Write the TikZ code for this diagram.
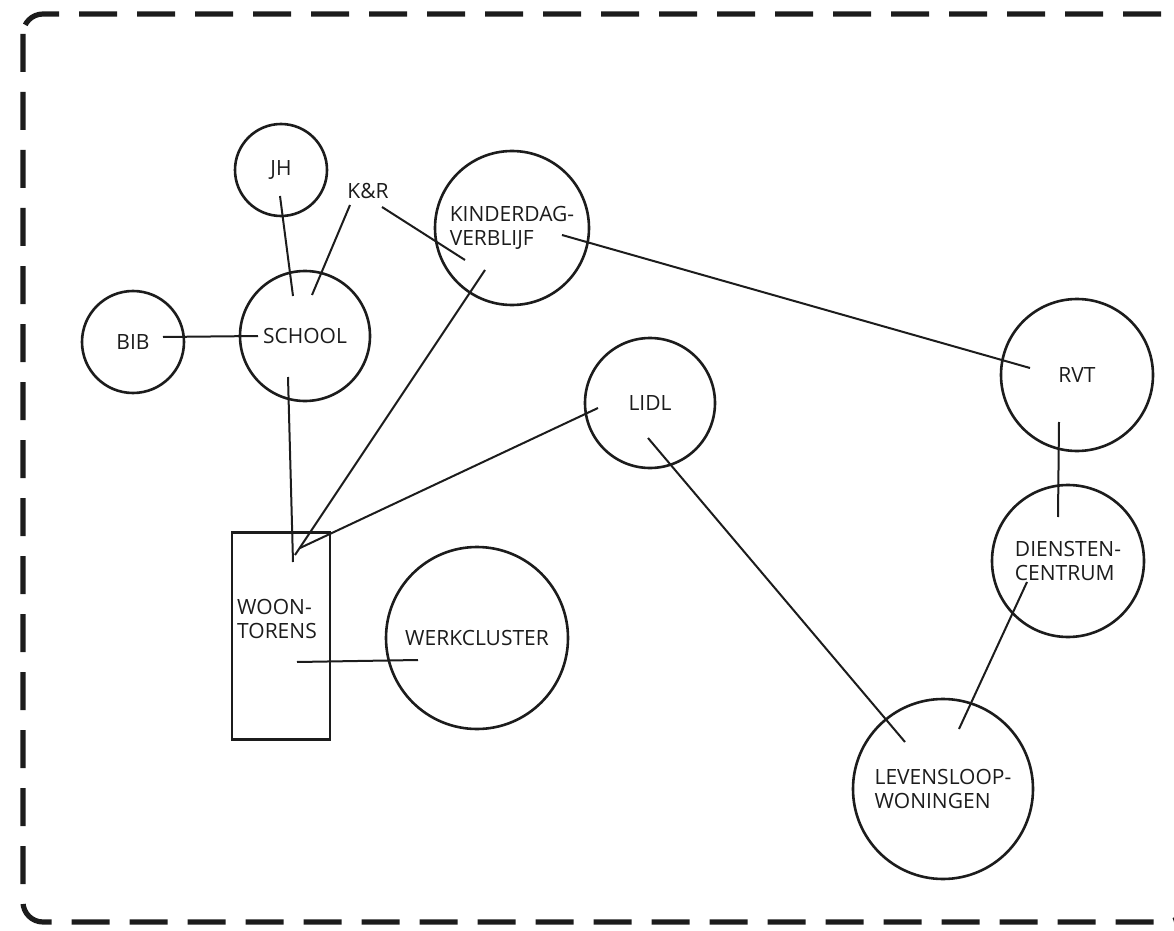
\documentclass[tikz,border=0pt]{standalone}
\usepackage{fontspec}
\setmainfont{Open Sans}
\usepackage{tikz}
\usetikzlibrary{positioning,calc}
\definecolor{ink}{HTML}{1C1C1C}

\begin{document}
\begin{tikzpicture}[x=0.5pt,y=-0.5pt,
  word/.style={text=ink,font=\fontsize{10.5}{12}\selectfont,align=left},
  spot/.style={circle,draw=ink,line width=1.3pt,inner sep=0pt,word},
  link/.style={draw=ink,line width=1pt},
  frame/.style={draw=ink,line width=2.6pt,dash pattern=on 19pt off 10pt,rounded corners=10pt}]
  \useasboundingbox (0,0) rectangle (1174,931);

  % Dashed frame, open to the right
  \draw[frame] (23,14) rectangle (1186,922);

  % Left: school cluster
  \node[spot,minimum size=46pt] (jh) at (281,170) {JH};
  \node[word] (kr) at (368,191) {K\&R};
  \node[spot,minimum size=65pt] (school) at (305,336) {SCHOOL};
  \node[spot,minimum size=51pt] (bib) at (133,342) {BIB};
  \node[spot,minimum size=77pt] (kdv) at (512,228) {KINDERDAG-\\VERBLIJF};

  % Centre: housing and work
  \node[draw=ink,line width=1.3pt,minimum width=49pt,minimum height=103.5pt,
        label={[word,xshift=-2pt,yshift=8.5pt]center:WOON-\\TORENS}] (wt) at (281,636) {};
  \node[spot,minimum size=91pt] (wc) at (477,638) {WERKCLUSTER};
  \node[spot,minimum size=65pt] (lidl) at (650,403) {LIDL};

  % Right: care chain
  \node[spot,minimum size=76pt] (rvt) at (1077,375) {RVT};
  \node[spot,minimum size=76pt] (dc) at (1068,561) {DIENSTEN-\\CENTRUM};
  \node[spot,minimum size=90pt] (lw) at (943,789) {LEVENSLOOP-\\WONINGEN};

  % Links
  \draw[link] ([xshift=-0.5pt,yshift=-13pt]jh.center) -- ([xshift=-6pt,yshift=20pt]school.center);
  \draw[link] ([xshift=-9pt,yshift=-7pt]kr.center) -- ([xshift=3.5pt,yshift=20.5pt]school.center);
  \draw[link] ([xshift=7pt,yshift=-8pt]kr.center) -- ([xshift=-23.5pt,yshift=-16pt]kdv.center);
  \draw[link] ([xshift=15pt,yshift=2.5pt]bib.center) -- ([xshift=-23.5pt]school.center);
  \draw[link] ([xshift=-8.5pt,yshift=-20.5pt]school.center) -- ([xshift=6pt,yshift=37pt]wt.center);
  \draw[link] ([xshift=-13.5pt,yshift=-21pt]kdv.center) -- ([xshift=7pt,yshift=40.5pt]wt.center);
  \draw[link] ([xshift=-26pt,yshift=-2.5pt]lidl.center) -- ([xshift=9.5pt,yshift=44pt]wt.center);
  \draw[link] ([xshift=25pt,yshift=-3.5pt]kdv.center) -- ([xshift=-23.5pt,yshift=3.5pt]rvt.center);
  \draw[link] ([xshift=-1pt,yshift=-17.5pt]lidl.center) -- ([xshift=-19pt,yshift=23.5pt]lw.center);
  \draw[link] ([xshift=-9pt,yshift=-23.5pt]rvt.center) -- ([xshift=-5pt,yshift=22pt]dc.center);
  \draw[link] ([xshift=-20.5pt,yshift=-10.5pt]dc.center) -- ([xshift=8pt,yshift=30pt]lw.center);
  \draw[link] ([xshift=8pt,yshift=-13pt]wt.center) -- ([xshift=-29.5pt,yshift=-11pt]wc.center);
\end{tikzpicture}
\end{document}
